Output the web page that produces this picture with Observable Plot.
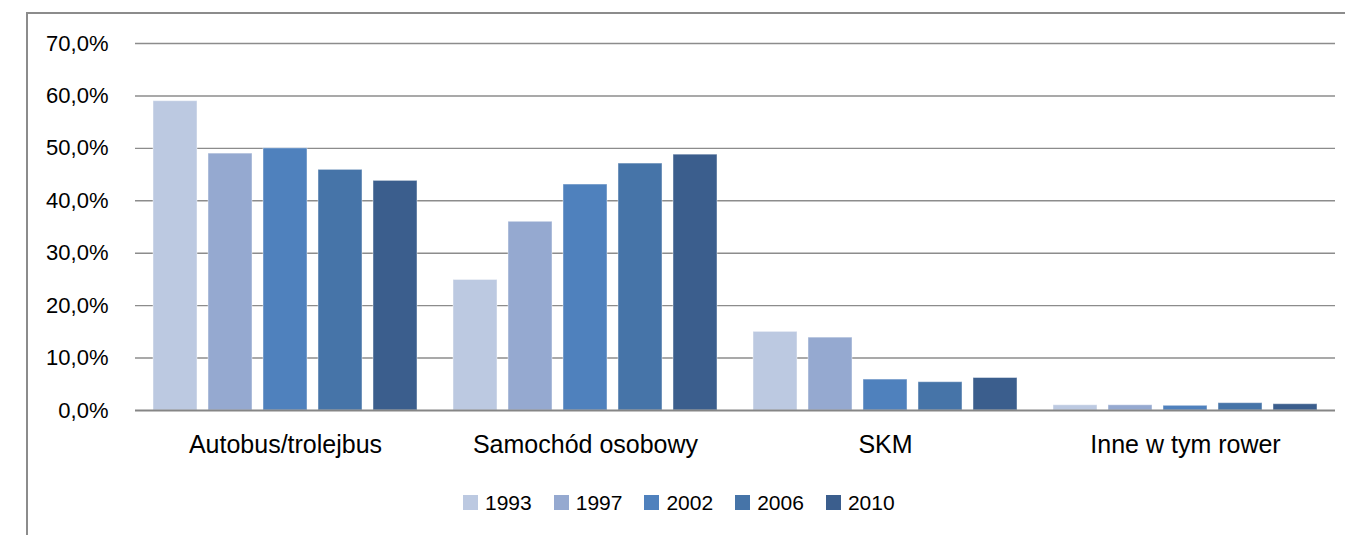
<!DOCTYPE html>
<html><head><meta charset="utf-8">
<script src="https://cdn.jsdelivr.net/npm/d3@7"></script>
<script src="https://cdn.jsdelivr.net/npm/@observablehq/plot@0.6"></script>
<style>
html,body{margin:0;padding:0;background:#fff;overflow:hidden;width:1345px;height:535px;}
#frame{position:absolute;left:26px;top:12px;width:1330px;height:530px;border-left:2px solid #8c8c8c;border-top:2px solid #8c8c8c;box-sizing:border-box;}
#chart{position:absolute;left:0;top:0;}
#legend{position:absolute;top:486px;left:463px;}
.lg-swatches{margin:0 !important;}
.lg-swatch{margin-right:22px !important;color:#000;}
.lg-swatch > svg{margin-right:7px !important;}
</style></head><body>
<div id="frame"></div>
<div id="chart"></div>
<div id="legend"></div>
<script>
const categories = ["Autobus/trolejbus", "Samochód osobowy", "SKM", "Inne w tym rower"];
const years = ["1993", "1997", "2002", "2006", "2010"];
const v1993 = [59.0, 24.9, 15.0, 1.0];
const v1997 = [49.0, 36.0, 13.9, 1.0];
const v2002 = [50.0, 43.1, 5.9, 0.9];
const v2006 = [45.9, 47.1, 5.4, 1.4];
const v2010 = [43.8, 48.8, 6.2, 1.2];
const yTicks = [0, 10, 20, 30, 40, 50, 60, 70];
const colors = ["#BCC9E1", "#95A9D0", "#4F81BD", "#4674A8", "#3B5E8D"];

const series = [v1993, v1997, v2002, v2006, v2010];
const data = [];
categories.forEach((c, i) => years.forEach((y, j) => data.push({category: c, year: y, value: series[j][i]})));

const font = '"Liberation Sans", Arial, sans-serif';
const fmt = d => d.toFixed(1).replace(".", ",") + "%";

const plot = Plot.plot({
  width: 1345,
  height: 470,
  marginLeft: 135,
  marginRight: 10,
  marginTop: 43,
  marginBottom: 60,
  style: {fontFamily: font, fontSize: "22px", color: "#000", background: "transparent", overflow: "visible"},
  fx: {domain: categories, padding: 0, label: null},
  x: {domain: years, paddingInner: 0.207, paddingOuter: 0.306, axis: null},
  y: {domain: [0, 70], axis: null},
  color: {domain: years, range: colors},
  marks: [
    Plot.ruleY(yTicks.filter(d => d > 0), {stroke: "#8c8c8c", strokeWidth: 1.4}),
    Plot.barY(data, {fx: "category", x: "year", y: "value", fill: "year", stroke: "#ffffff", strokeOpacity: 0.45, strokeWidth: 1}),
    Plot.ruleY([0], {stroke: "#868686", strokeWidth: 1.8}),
    Plot.axisY(yTicks, {tickSize: 0, tickPadding: 27, tickFormat: fmt, fontSize: 22, label: null}),
    Plot.axisFx({anchor: "bottom", tickSize: 0, tickPadding: 25, fontSize: 25, label: null})
  ]
});
document.getElementById("chart").appendChild(plot);

const leg = plot.legend("color", {swatchSize: 15, className: "lg", style: {fontFamily: font, fontSize: "21px", color: "#000"}});
document.getElementById("legend").appendChild(leg);
</script>
</body></html>
